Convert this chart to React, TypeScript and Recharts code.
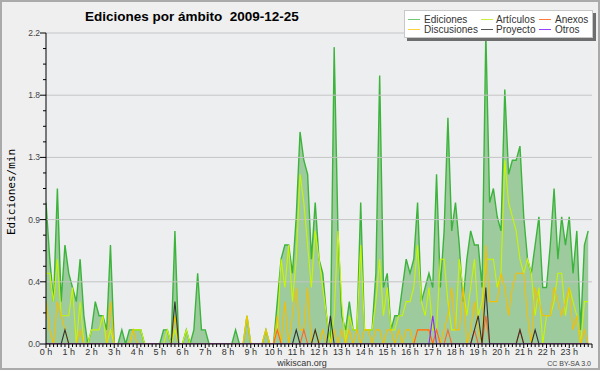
import React from 'react';
import { ComposedChart, Area, Line, XAxis, YAxis, ReferenceLine, CartesianGrid } from 'recharts';

// 10-minute slots of 2009-12-25 (144 per day)
const hourLabels = ['0 h','1 h','2 h','3 h','4 h','5 h','6 h','7 h','8 h','9 h','10 h','11 h','12 h','13 h','14 h','15 h','16 h','17 h','18 h','19 h','20 h','21 h','22 h','23 h'];

const ediciones = [
  1.0,0.6,0.3,1.1,0.3,0.7,0.5,0.4,0.3,0.6,0.2,0,
  0.1,0.3,0.2,0.2,0.1,0.7,0,0,0.1,0,0.1,0.1,
  0.1,0.1,0,0,0,0,0,0.1,0.1,0,0.8,0,
  0,0.1,0,0.1,0.5,0.1,0.1,0,0,0,0,0,
  0,0,0.1,0,0,0.2,0,0,0,0,0.1,0,
  0,0.3,0.6,0.7,0.7,0.5,0.9,1.5,1.3,1.2,0.6,1.0,
  0.6,0.5,0.2,0,2.1,0.8,0.2,0.1,0.3,0.1,0.1,1.0,
  0.1,0.1,0.1,0.5,1.9,0.4,0.5,0.1,0.2,0.2,0.4,0.6,
  0.5,0.6,1.0,0.3,0.4,0.5,0.4,1.2,0.4,0.8,1.6,0.8,
  1.0,0.7,0.3,0.6,0.8,0.7,0.7,0.4,2.2,1.0,1.1,0.9,
  0.8,1.8,1.2,1.3,1.3,1.4,0.9,0.6,0.5,0.7,0.9,0.4,
  0.4,0.7,1.1,0.6,0.9,0.7,0.9,0.5,0.8,0.1,0.7,0.8,
];

const articulos = [
  0.5,0.5,0.3,0.6,0.2,0.2,0.2,0.4,0,0.3,0,0,
  0.1,0.1,0.1,0.2,0,0.1,0,0,0,0,0,0.1,
  0.1,0.1,0,0,0,0,0,0,0.1,0,0.1,0,
  0,0.1,0,0,0,0,0,0,0,0,0,0,
  0,0,0,0,0,0.2,0,0,0,0,0.1,0,
  0,0.1,0.6,0.4,0.7,0.3,0.6,1.2,1.0,0.7,0.4,0.8,
  0.6,0.4,0.2,0,0.2,0.8,0.3,0,0.2,0.1,0.1,0.7,
  0.1,0.1,0.1,0.3,0.6,0.2,0.4,0.1,0.1,0.2,0.2,0.3,
  0.3,0.4,0.7,0.3,0.2,0.4,0.1,0.1,0.6,0.6,0.3,0.1,
  0.1,0.6,0.4,0.2,0.4,0.6,0.2,0.3,0.6,0.6,0.6,0.4,
  0.5,1.3,1.0,0.9,0.8,0.6,0.5,0.6,0.5,0.2,0.4,0,
  0.2,0.2,0.3,0.5,0.5,0.2,0.4,0.3,0.2,0,0.3,0.3,
];

const discusiones = [
  0.3,0.1,0,0.3,0.2,0.1,0,0,0,0.1,0,0,
  0,0,0,0,0,0.3,0,0,0,0,0,0.1,
  0,0,0,0,0,0,0,0,0,0,0.2,0,
  0,0,0,0,0,0,0,0,0,0,0,0,
  0,0,0,0,0,0.2,0,0,0,0,0.1,0,
  0,0.2,0,0.3,0,0.2,0.4,0.1,0.1,0.4,0,0.1,
  0,0.1,0,0,0.1,0,0.1,0,0.1,0,0.1,0,
  0.1,0.1,0,0.1,0.1,0,0.1,0.1,0,0.1,0,0.1,
  0.1,0,0.1,0.1,0.1,0.1,0,0.1,0,0.1,0.2,0.4,
  0.1,0.1,0.4,0,0.1,0.3,0.1,0,0.7,0.3,0.3,0.3,
  0.5,0.4,0.2,0.4,0.5,0.5,0.5,0.2,0,0.4,0.3,0.2,
  0.2,0.2,0.4,0.3,0.2,0.3,0.4,0.1,0.2,0,0.1,0,
];

const anexos = [
  0,0,0,0,0,0,0,0,0,0,0,0,
  0,0,0,0,0,0,0,0,0,0,0,0,
  0,0,0,0,0,0,0,0,0,0,0,0,
  0,0,0,0,0,0,0,0,0,0,0,0,
  0,0,0,0,0,0,0,0,0,0,0,0,
  0,0.1,0,0,0,0,0,0,0.1,0,0,0,
  0,0,0,0,0,0,0,0,0,0,0,0,
  0,0,0,0,0,0,0,0,0,0,0,0,
  0,0,0.1,0.1,0.1,0.1,0,0.1,0,0,0.1,0,
  0,0,0,0,0,0.1,0,0,0.2,0,0,0,
  0,0,0,0,0,0.1,0,0,0,0,0,0,
  0,0,0,0,0,0,0,0,0,0,0,0,
];

const proyecto = [
  0,0,0,0,0,0.1,0,0,0,0,0,0,
  0,0,0,0,0,0,0,0,0,0,0,0,
  0,0,0,0,0,0,0,0,0,0,0.3,0,
  0,0,0,0,0,0,0,0,0,0,0,0,
  0,0,0,0,0,0,0,0,0,0,0,0,
  0,0,0,0,0,0,0.1,0,0,0,0,0.1,
  0,0,0,0.2,0,0,0,0,0,0,0,0,
  0,0,0,0,0,0,0,0,0,0,0,0,
  0,0,0,0,0,0,0,0,0,0,0,0,
  0,0,0,0,0,0.1,0.2,0,0.4,0,0,0,
  0,0,0,0,0,0.1,0,0,0,0.1,0,0,
  0,0,0,0,0,0,0,0,0,0,0,0,
];

const otros = [
  0,0,0,0,0,0,0,0,0,0,0,0,
  0,0,0,0,0,0,0,0,0,0,0,0,
  0,0,0,0,0,0,0,0,0,0,0,0,
  0,0,0,0,0,0,0,0,0,0,0,0,
  0,0,0,0,0,0,0,0,0,0,0,0,
  0,0,0,0,0,0,0,0,0,0,0,0,
  0,0,0,0,0,0,0,0,0,0,0,0,
  0,0,0,0,0,0,0,0,0,0,0,0,
  0,0,0,0,0,0,0.2,0,0,0,0,0,
  0,0,0,0,0,0,0,0,0,0,0,0,
  0,0,0,0,0,0,0,0,0,0,0,0,
  0,0,0,0,0,0,0,0,0,0,0,0,
];

const yTicks = [0,0.11,0.22,0.33,0.44,0.55,0.66,0.77,0.88,0.99,1.1,1.21,1.32,1.43,1.54,1.65,1.76,1.87,1.98,2.09,2.2];
const yLabels = ['0.0','0.4','0.9','1.3','1.8','2.2'];
const gridValues = [0.44,0.88,1.32,1.76,2.2];

const COLORS = {
  edicionesLine: '#3cb43c',
  edicionesFill: '#9ecb9e',
  articulos: '#c8f500',
  discusiones: '#f5bf00',
  anexos: '#ff6622',
  proyecto: '#333333',
  otros: '#8b2ff0',
};

const legendItems = [
  { name: 'Ediciones', color: '#74c874', col: 0, row: 0 },
  { name: 'Artículos', color: '#c8f03c', col: 1, row: 0 },
  { name: 'Anexos', color: '#ff7a40', col: 2, row: 0 },
  { name: 'Discusiones', color: '#ffd040', col: 0, row: 1 },
  { name: 'Proyecto', color: '#555555', col: 1, row: 1 },
  { name: 'Otros', color: '#9a40ff', col: 2, row: 1 },
];

const data = ediciones.map((v, i) => ({
  t: i,
  ediciones: v,
  articulos: articulos[i],
  discusiones: discusiones[i],
  anexos: anexos[i],
  proyecto: proyecto[i],
  otros: otros[i],
}));

const xTicks = data.map(d => d.t).concat([144]);

const SANS = '"Liberation Sans", Arial, sans-serif';

const XTick = (props: any) => {
  const { x, y, payload } = props;
  const v = payload.value as number;
  const major = v % 6 === 0;
  const h = v / 6;
  return (
    <g>
      <line x1={x} x2={x} y1={y} y2={y + (major ? 4 : 3)} stroke="#000" strokeWidth={1} />
      {major && h < 24 && (
        <text x={x} y={y + 11} textAnchor="middle" fontSize={9} fill="#333" fontFamily={SANS}>
          {hourLabels[h]}
        </text>
      )}
    </g>
  );
};

const YTick = (props: any) => {
  const { x, y, index } = props;
  const major = index % 4 === 0;
  return (
    <g>
      <line x1={x - (major ? 6 : 3)} x2={x} y1={y} y2={y} stroke="#000" strokeWidth={1} />
      {major && (
        <text x={x - 6} y={y + 3} textAnchor="end" fontSize={8.5} fill="#444" fontFamily={SANS}>
          {yLabels[index / 4]}
        </text>
      )}
    </g>
  );
};

const colLine = [408, 481, 539];
const colText = [424, 496, 555];
const rowY = [19.5, 29.5];

export default function App() {
  return (
    <div style={{ position: 'fixed', left: 0, top: 0, width: 600, height: 370, background: '#efefef', overflow: 'hidden' }}>
      <div style={{ position: 'absolute', left: 0, top: 0 }}>
        <ComposedChart width={600} height={370} data={data} margin={{ top: 33, right: 8, left: 0, bottom: 0 }}>
          <CartesianGrid horizontal={false} vertical={false} fill="#edeef0" />
          <XAxis
            type="number"
            dataKey="t"
            domain={[0, 144]}
            ticks={xTicks}
            interval={0}
            height={26}
            tickSize={0}
            tickMargin={0}
            tickLine={false}
            axisLine={{ stroke: '#000', strokeWidth: 1 }}
            tick={<XTick />}
            allowDataOverflow
          />
          <YAxis
            type="number"
            domain={[0, 2.2]}
            ticks={yTicks}
            interval={0}
            width={46}
            tickSize={0}
            tickMargin={0}
            tickLine={false}
            axisLine={{ stroke: '#000', strokeWidth: 1 }}
            tick={<YTick />}
            allowDataOverflow
          />
          <Area
            type="linear"
            dataKey="ediciones"
            stroke={COLORS.edicionesLine}
            strokeWidth={1.4}
            fill={COLORS.edicionesFill}
            fillOpacity={1}
            dot={false}
            activeDot={false}
            isAnimationActive={false}
          />
          {gridValues.map(v => (
            <ReferenceLine key={v} y={v} stroke="#c4c4c4" strokeWidth={1} ifOverflow="extendDomain" />
          ))}
          <Line type="linear" dataKey="articulos" stroke={COLORS.articulos} strokeWidth={1.1} dot={false} activeDot={false} isAnimationActive={false} />
          <Line type="linear" dataKey="discusiones" stroke={COLORS.discusiones} strokeWidth={1.1} dot={false} activeDot={false} isAnimationActive={false} />
          <Line type="linear" dataKey="anexos" stroke={COLORS.anexos} strokeWidth={1.1} dot={false} activeDot={false} isAnimationActive={false} />
          <Line type="linear" dataKey="proyecto" stroke={COLORS.proyecto} strokeWidth={1.1} dot={false} activeDot={false} isAnimationActive={false} />
          <Line type="linear" dataKey="otros" stroke={COLORS.otros} strokeWidth={1.1} dot={false} activeDot={false} isAnimationActive={false} />
        </ComposedChart>
      </div>
      <svg width={600} height={370} style={{ position: 'absolute', left: 0, top: 0, pointerEvents: 'none' }}>
        <rect x={1} y={1} width={598} height={368} fill="none" stroke="#aaaaaa" strokeWidth={2} />
        <text x={85} y={21} fontSize={13.5} fontWeight="bold" fill="#000" fontFamily={SANS} style={{ whiteSpace: 'pre' }}>
          {'Ediciones por ámbito  2009-12-25'}
        </text>
        <text
          x={15}
          y={192}
          transform="rotate(-90 15 192)"
          textAnchor="middle"
          fontSize={11}
          fill="#000"
          fontFamily='"DejaVu Sans Mono", monospace'
        >
          Ediciones/min
        </text>
        <text x={302} y={366} textAnchor="middle" fontSize={9} fill="#333" fontFamily={SANS}>
          wikiscan.org
        </text>
        <text x={591} y={366} textAnchor="end" fontSize={7} fill="#444" fontFamily={SANS}>
          CC BY-SA 3.0
        </text>
        <rect x={407} y={13} width={189} height={28} fill="#6e6e6e" />
        <rect x={404.5} y={10.5} width={188} height={27} fill="#ffffff" stroke="#c8c8c8" strokeWidth={1} />
        {legendItems.map(it => (
          <g key={it.name}>
            <line x1={colLine[it.col]} x2={colLine[it.col] + 12} y1={rowY[it.row]} y2={rowY[it.row]} stroke={it.color} strokeWidth={1} />
            <text x={colText[it.col]} y={rowY[it.row] + 3.5} fontSize={10} fill="#333" fontFamily={SANS}>
              {it.name}
            </text>
          </g>
        ))}
      </svg>
    </div>
  );
}
